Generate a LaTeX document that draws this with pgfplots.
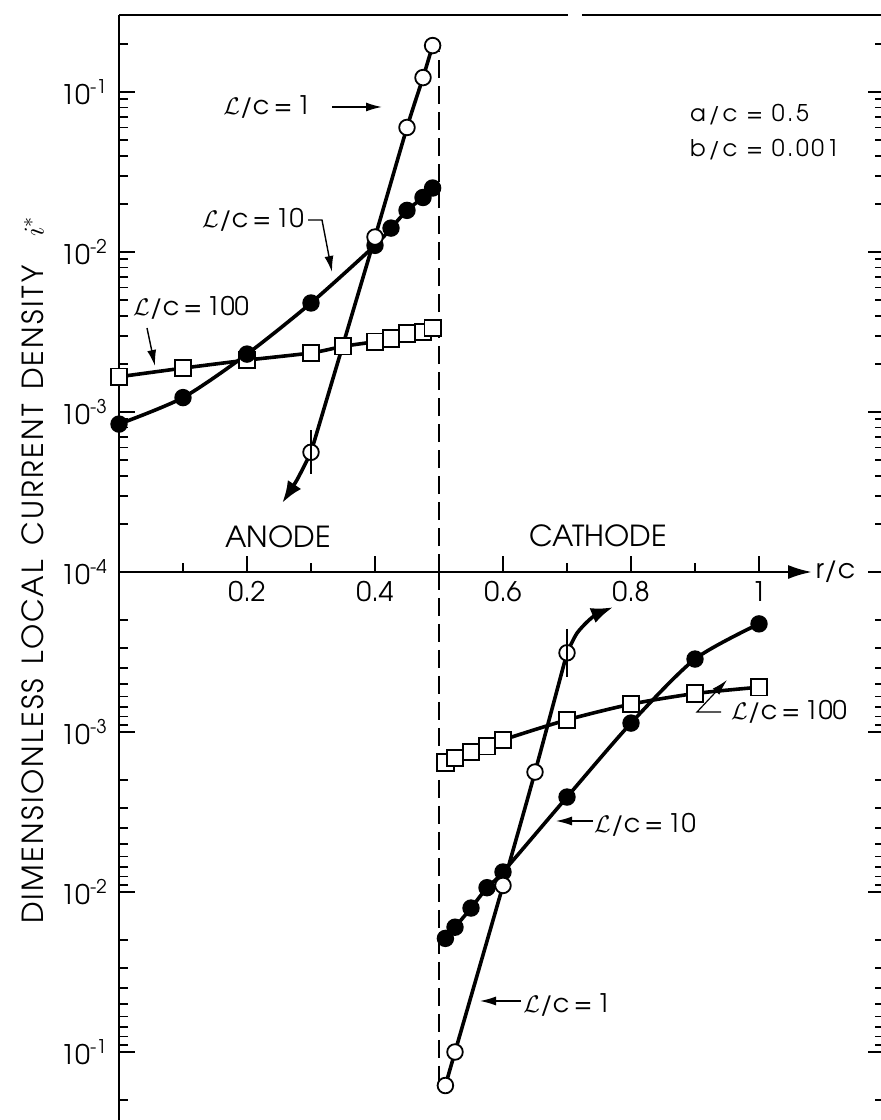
\documentclass[border=0pt]{standalone}
\usepackage{pgfplots}
\pgfplotsset{compat=1.18}
\usetikzlibrary{arrows.meta}
\usepackage{fontspec}
\setmainfont{texgyreadventor}[Extension=.otf, UprightFont=*-regular, BoldFont=*-bold, ItalicFont=*-italic, BoldItalicFont=*-bolditalic]

\newcommand{\Lc}{$\mathcal{L}$/c}
\newcommand{\fTick}{\fontsize{13.5}{15}\selectfont}
\newcommand{\fAnn}{\fontsize{12.8}{15}\selectfont}
\newcommand{\fSmall}{\fontsize{11.5}{13}\selectfont\addfontfeatures{LetterSpace=11}}
\newcommand{\fBig}{\fontsize{14.5}{16}\selectfont}

% anode (upper) and cathode (lower) data, |i*| against r/c
\pgfplotstableread{
x y
0.30 5.6e-4
0.40 0.0124
0.45 0.060
0.475 0.123
0.49 0.195
}\anodeA
\pgfplotstableread{
x y
0.00 8.4e-4
0.10 1.23e-3
0.20 2.3e-3
0.30 4.8e-3
0.40 0.0110
0.425 0.0141
0.45 0.0182
0.475 0.0219
0.49 0.0251
}\anodeB
\pgfplotstableread{
x y
0.00 1.66e-3
0.10 1.88e-3
0.20 2.11e-3
0.30 2.34e-3
0.35 2.57e-3
0.40 2.75e-3
0.425 2.88e-3
0.45 3.09e-3
0.475 3.16e-3
0.49 3.35e-3
}\anodeC
\pgfplotstableread{
x y
0.51 0.162
0.525 0.100
0.60 9.1e-3
0.65 1.78e-3
0.70 3.2e-4
}\cathA
\pgfplotstableread{
x y
0.51 0.0195
0.525 0.0166
0.55 0.0126
0.575 9.4e-3
0.60 7.5e-3
0.70 2.55e-3
0.80 8.8e-4
0.90 3.5e-4
1.00 2.11e-4
}\cathB
\pgfplotstableread{
x y
0.51 1.55e-3
0.525 1.45e-3
0.55 1.33e-3
0.575 1.23e-3
0.60 1.12e-3
0.70 8.4e-4
0.80 6.7e-4
0.90 5.75e-4
1.00 5.25e-4
}\cathC

\pgfplotsset{
  panel/.style={
    scale only axis, width=382.5pt, xmin=0, xmax=1.1953,
    clip=false,
    axis line style={draw=none},
    tick align=inside, ytick pos=both,
    every tick/.style={black, line width=0.9pt},
    major tick length=8pt, minor tick length=4.5pt,
    minor ytick={2e-4,3e-4,4e-4,5e-4,6e-4,7e-4,8e-4,9e-4,
                 2e-3,3e-3,4e-3,5e-3,6e-3,7e-3,8e-3,9e-3,
                 2e-2,3e-2,4e-2,5e-2,6e-2,7e-2,8e-2,9e-2,2e-1},
    ticklabel style={font=\fTick},
    yticklabel style={xshift=-2pt},
  },
  curve/.style={black, line width=1.8pt, smooth, tension=0.45},
  opencirc/.style={mark=*, mark size=3.9pt, mark options={solid, fill=white, line width=0.9pt}},
  fullcirc/.style={mark=*, mark size=3.9pt, mark options={solid, fill=black, line width=0.9pt}},
  opensq/.style={mark=square*, mark size=4.1pt, mark options={solid, fill=white, line width=0.9pt}},
}

\begin{document}
\begin{tikzpicture}
\path[use as bounding box] (0,0) rectangle (440pt,560pt);

% anode side
\begin{axis}[ymode=log, panel, at={(59.5pt,274pt)}, anchor=south west, height=278.5pt,
  ymin=1e-4, ymax=0.3027,
  xtick pos=bottom,
  xtick={0.2,0.4,0.6,0.8,1}, xticklabels={0.2,0.4,0.6,0.8,1},
  minor xtick={0.1,0.3,0.5,0.7,0.9},
  xticklabel style={yshift=-1pt},
  ytick={1e-4,1e-3,1e-2,1e-1},
  yticklabels={10\textsuperscript{-4},10\textsuperscript{-3},10\textsuperscript{-2},10\textsuperscript{-1}},
]
\draw[line width=1.3pt] (axis cs:0,1e-4) -- (axis cs:0,0.3027);
\draw[line width=1.3pt] (axis cs:0,0.3027) -- (axis cs:0.7016,0.3027);
\draw[line width=1.3pt] (axis cs:0.7234,0.3027) -- (axis cs:1.2,0.3027);
\draw[line width=1.3pt, -{Latex[length=12pt,width=7pt]}] (axis cs:0,1e-4) -- (axis cs:1.083,1e-4);
\node[anchor=west, font=\fTick, inner sep=1pt] at (axis cs:1.085,1e-4) {r/c};

\addplot[black, line width=0.8pt, dash pattern=on 9pt off 4pt] coordinates {(0.5,1e-4) (0.5,0.18)};

\addplot[curve] table {\anodeC};
\addplot[curve] table {\anodeB};
\addplot[curve] table {\anodeA};
\addplot[curve, -{Latex[length=11pt,width=8pt]}] coordinates {(0.30,5.6e-4) (0.278,3.76e-4) (0.255,2.7e-4)};

\addplot[only marks, opensq] table {\anodeC};
\addplot[only marks, fullcirc] table {\anodeB};
\addplot[only marks, opencirc] table {\anodeA};
\addplot[only marks, mark=|, mark size=11pt, mark options={line width=0.9pt}] coordinates {(0.30,5.6e-4)};
\end{axis}

% cathode side
\begin{axis}[ymode=log, panel, at={(59.5pt,274pt)}, anchor=north west, height=276pt,
  y dir=reverse, ymin=1e-4, ymax=0.2818,
  xtick=\empty,
  ytick={1e-3,1e-2,1e-1},
  yticklabels={10\textsuperscript{-3},10\textsuperscript{-2},10\textsuperscript{-1}},
]
\draw[line width=1.3pt] (axis cs:0,1e-4) -- (axis cs:0,0.2818);

\addplot[black, line width=0.8pt, dash pattern=on 9pt off 4pt] coordinates {(0.5,1e-4) (0.5,0.165)};

\addplot[curve] table {\cathC};
\addplot[curve] table {\cathB};
\addplot[curve] table {\cathA};
\addplot[curve, -{Latex[length=11pt,width=8pt]}] coordinates {(0.70,3.2e-4) (0.716,2.4e-4) (0.741,1.9e-4) (0.772,1.66e-4)};

\addplot[only marks, opensq] table {\cathC};
\addplot[only marks, fullcirc] table {\cathB};
\addplot[only marks, opencirc] table {\cathA};
\addplot[only marks, mark=|, mark size=12pt, mark options={line width=0.9pt}] coordinates {(0.70,3.2e-4)};
\end{axis}

% labels and leaders (coordinates in 0.5pt units, measured downward from the top edge)
\begin{scope}[x=0.5pt, y=-0.5pt, yshift=560pt]
  \node[rotate=90, font=\fBig\addfontfeatures{LetterSpace=8}] at (33,570) {DIMENSIONLESS\enspace LOCAL\enspace CURRENT\enspace DENSITY\quad$i^{*}$};

  \node[font=\fAnn] at (267,107) {\Lc\,=\,1};
  \draw[line width=0.8pt, -{Latex[length=8pt,width=4.5pt]}] (332,107) -- (382,107);

  \node[font=\fAnn] at (253,220) {\Lc\,=\,10};
  \draw[line width=0.7pt, -{Latex[length=8pt,width=4.5pt]}] (308,220) -- (322,220) -- (332,272);

  \node[font=\fAnn] at (191,308) {\Lc\,=\,100};
  \draw[line width=0.7pt, -{Latex[length=8pt,width=4.5pt]}] (147,328) -- (155,366);

  \node[font=\fSmall, anchor=west] at (683,115) {a/c = 0.5};
  \node[font=\fSmall, anchor=west] at (683,150) {b/c = 0.001};

  \node[font=\fBig] at (278,537) {ANODE};
  \node[font=\fBig] at (598,536) {CATHODE};

  \node[font=\fAnn] at (789,712) {\Lc\,=\,100};
  \draw[line width=0.6pt, -{Latex[length=8pt,width=4.5pt]}] (721,712) -- (697,712) -- (727,680);

  \node[font=\fAnn] at (645,825) {\Lc\,=\,10};
  \draw[line width=0.6pt, -{Latex[length=8pt,width=4.5pt]}] (593,821) -- (556,821);

  \node[font=\fAnn] at (567,1005) {\Lc\,=\,1};
  \draw[line width=0.6pt, -{Latex[length=8pt,width=4.5pt]}] (521,1001) -- (480,1001);
\end{scope}
\end{tikzpicture}
\end{document}
